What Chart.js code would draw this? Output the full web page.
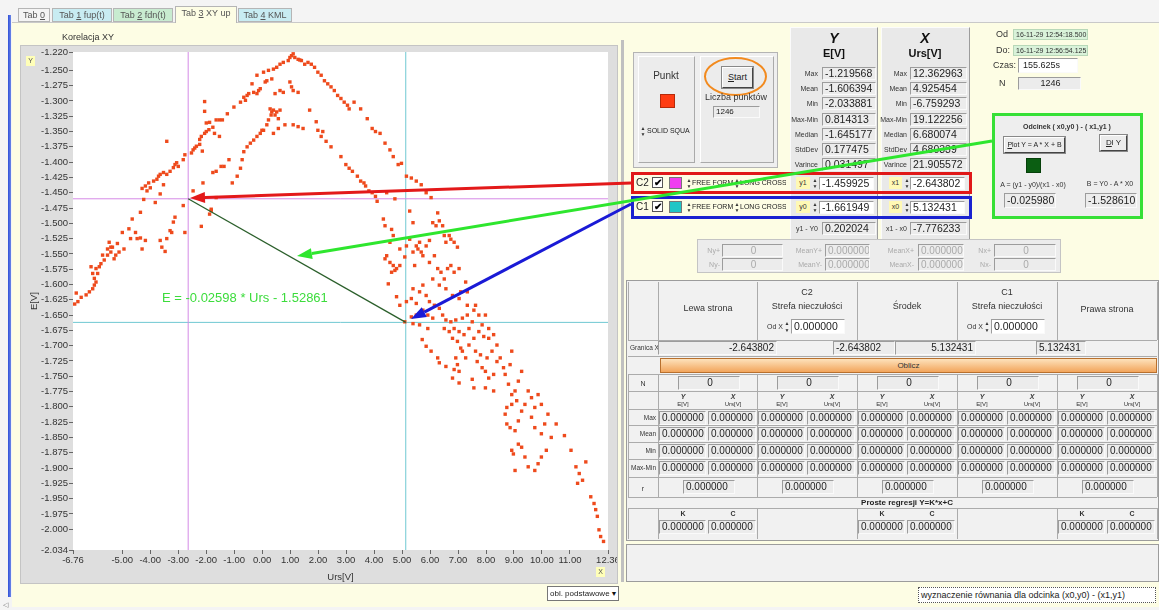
<!DOCTYPE html>
<html>
<head>
<meta charset="utf-8">
<script src="https://cdn.jsdelivr.net/npm/chart.js@4.4.1/dist/chart.umd.min.js"></script>
<style>
  body { margin:0; width:1159px; height:610px; overflow:hidden; background:#f4f4f4;
         font-family:"Liberation Sans", Arial, sans-serif; position:relative; }
  #tabpanel { position:absolute; left:12px; top:22px; width:1147px; height:584px; background:#fdfde4;
              border-top:1px solid #c9c9c9; }
  #plotframe { position:absolute; left:21px; top:46px; width:596px; height:537px; z-index:1;
               box-shadow:0 0 0 1px #c4c4c4; }
  #ui { position:absolute; left:0; top:0; width:1159px; height:610px; z-index:2; }
  #arrows { position:absolute; left:0; top:0; z-index:10; pointer-events:none; }
</style>
</head>
<body>
<div id="tabpanel"></div>
<div id="plotframe"><canvas id="xyChart" width="596" height="537"></canvas></div>
<div id="ui"></div>
<svg id="arrows" width="1159" height="610"></svg>
<script>
// cursor values (C1 = x0,y0 ; C2 = x1,y1)
const cursorC1 = [5.132431, -1.661949];
const cursorC2 = [-2.643802, -1.459925];

// axis ranges and tick labels
const xRange = [-6.76, 12.36];
const yRange = [-2.034, -1.22];
const xTicks = [-6.76, -5, -4, -3, -2, -1, 0, 1, 2, 3, 4, 5, 6, 7, 8, 9, 10, 11, 12.36];
const yTicks = [-1.220, -1.250, -1.275, -1.300, -1.325, -1.350, -1.375, -1.400, -1.425, -1.450,
  -1.475, -1.500, -1.525, -1.550, -1.575, -1.600, -1.625, -1.650, -1.675, -1.700, -1.725, -1.750,
  -1.775, -1.800, -1.825, -1.850, -1.875, -1.900, -1.925, -1.950, -1.975, -2.000, -2.034];

// measured samples [Urs, E]
const leftArm = [
  [-6.700,-1.632],[-6.644,-1.614],[-6.585,-1.628],[-6.468,-1.621],[-6.291,-1.617],[-6.174,-1.612],
  [-6.056,-1.607],[-5.997,-1.601],[-5.938,-1.596],[-5.997,-1.590],[-5.879,-1.582],[-6.056,-1.582],
  [-5.938,-1.574],[-5.820,-1.571],[-6.115,-1.571],[-5.762,-1.566],[-5.644,-1.560],[-5.703,-1.552],
  [-5.526,-1.552],[-5.408,-1.547],[-5.526,-1.542],[-5.350,-1.539],[-5.291,-1.558],[-5.232,-1.552],
  [-5.115,-1.547],[-5.467,-1.531],[-5.408,-1.539],[-5.173,-1.533],[-4.997,-1.515],[-4.938,-1.542],
  [-4.762,-1.509],[-4.644,-1.493],[-4.703,-1.525],[-4.526,-1.515],[-4.467,-1.525],[-4.350,-1.524],
  [-4.291,-1.542],[-4.173,-1.528],[-4.350,-1.482],[-4.232,-1.461],[-3.820,-1.466],[-3.644,-1.452],
  [-3.526,-1.437],[-3.644,-1.528],[-3.585,-1.539],[-3.468,-1.546],[-3.409,-1.525],[-3.291,-1.512],
  [-3.173,-1.498],[-3.115,-1.490],[-3.232,-1.515],[-2.762,-1.515],[-2.820,-1.471],[-2.174,-1.505],
  [-1.879,-1.485],[-1.820,-1.479],[-2.115,-1.434],[-2.468,-1.447],
  [-4.291,-1.443],[-4.173,-1.439],[-4.115,-1.447],[-4.056,-1.434],[-3.997,-1.442],[-3.879,-1.431],
  [-3.762,-1.428],[-3.703,-1.423],[-3.644,-1.420],[-3.526,-1.417],[-3.409,-1.420],[-3.291,-1.415],
  [-3.173,-1.409],[-3.115,-1.404],[-3.056,-1.401],[-2.997,-1.407],[-2.820,-1.396],[-2.762,-1.388],
  [-2.526,-1.385],[-2.468,-1.380],[-2.409,-1.377],[-2.350,-1.374],[-2.232,-1.363],[-2.174,-1.358],
  [-2.056,-1.353],[-1.997,-1.350],[-1.903,-1.347],[-1.762,-1.343],[-1.703,-1.353],[-1.526,-1.358],
  [-2.232,-1.371],[-2.138,-1.382],[-3.409,-1.366],
  [-2.056,-1.301],[-2.056,-1.317],[-1.997,-1.336],[-1.879,-1.335],[-1.644,-1.331],[-1.526,-1.331],
  [-1.468,-1.407],[-1.644,-1.415],[-1.762,-1.417],[-1.644,-1.458],[-1.820,-1.477]
];

const archPoints = [
  [-1.421,-1.331],[-1.244,-1.321],[-1.009,-1.310],[-0.774,-1.302],[-0.656,-1.294],[-0.538,-1.291],
  [-0.597,-1.299],[-0.480,-1.288],[-0.303,-1.286],[-0.186,-1.288],[-0.127,-1.283],[-0.068,-1.280],
  [-0.362,-1.272],[-0.186,-1.258],[0.050,-1.253],[0.226,-1.250],[0.403,-1.248],[0.520,-1.245],
  [0.638,-1.240],[0.756,-1.237],[0.932,-1.234],[1.050,-1.226],[1.109,-1.223],[1.167,-1.229],
  [1.285,-1.232],[1.403,-1.234],[1.520,-1.240],[1.638,-1.237],[1.756,-1.240],[1.873,-1.245],
  [1.991,-1.253],[2.109,-1.258],[2.226,-1.267],[2.344,-1.272],[2.461,-1.277],[2.579,-1.283],
  [2.697,-1.291],[2.815,-1.296],[2.932,-1.302],[3.050,-1.307],[3.109,-1.313],[3.285,-1.302],
  [3.520,-1.313],[3.756,-1.329],[3.932,-1.345],[4.050,-1.350],[0.991,-1.229],[1.344,-1.233],
  [0.109,-1.269],[0.167,-1.267],[0.344,-1.264],[0.461,-1.288],[0.638,-1.283],[0.756,-1.286],
  [0.991,-1.269],[1.050,-1.277],[1.109,-1.283],[1.285,-1.286],[0.285,-1.313],[0.344,-1.318],
  [0.461,-1.323],[0.520,-1.318],[0.638,-1.315],[0.579,-1.329],[0.226,-1.331],[0.167,-1.339],
  [0.050,-1.348],[0.403,-1.353],[0.579,-1.345],[0.814,-1.339],[1.109,-1.339],[1.285,-1.342],
  [1.462,-1.345],[1.697,-1.315],[1.932,-1.334],[1.991,-1.348],[2.109,-1.358],[2.167,-1.350],
  [2.285,-1.366],[2.461,-1.375],[2.815,-1.391],[2.991,-1.404],[3.109,-1.410],[3.226,-1.415],
  [3.403,-1.423],[3.520,-1.431],[3.638,-1.434],[3.697,-1.439],[3.814,-1.447],[3.932,-1.450],
  [4.050,-1.456],[4.109,-1.464],[0.403,-1.315],[0.320,-1.323],
  [-1.362,-1.407],[-1.186,-1.396],[-1.068,-1.434],[-0.892,-1.423],[-0.774,-1.410],[-0.715,-1.396],
  [-0.656,-1.383],[-0.538,-1.375],[-0.421,-1.369],[-0.303,-1.364],[-0.186,-1.358],[-0.068,-1.353],
  [-0.009,-1.348]
];

const rightBand = [
  [4.214,-1.353],[4.391,-1.369],[4.567,-1.380],[4.685,-1.391],[4.861,-1.404],[4.979,-1.402],
  [5.156,-1.423],[5.332,-1.426],[5.508,-1.431],[5.685,-1.437],[5.861,-1.450],[6.038,-1.458],
  [4.744,-1.460],[5.273,-1.480],[5.391,-1.499],[4.450,-1.450],
  [4.332,-1.493],[4.391,-1.504],[4.626,-1.510],[4.685,-1.520],[4.567,-1.531],[4.920,-1.542],
  [4.450,-1.553],[4.391,-1.558],[4.567,-1.564],[4.685,-1.569],[4.803,-1.574],[4.920,-1.569],
  [4.626,-1.580],[4.744,-1.577],[4.508,-1.599],[4.803,-1.620],[5.097,-1.555],[5.156,-1.537],
  [5.273,-1.526],[5.391,-1.547],[5.450,-1.569],[5.508,-1.537],[5.567,-1.542],[5.626,-1.531],
  [5.685,-1.547],[5.744,-1.553],[5.861,-1.537],[5.979,-1.528],[6.097,-1.499],[6.214,-1.504],
  [6.332,-1.496],[6.450,-1.504],[6.273,-1.483],[6.508,-1.520],[6.567,-1.531],[6.685,-1.520],
  [6.744,-1.526],[6.861,-1.531],[6.979,-1.539],[6.156,-1.553],[5.979,-1.564],[6.273,-1.574],
  [6.391,-1.580],[6.097,-1.591],[6.332,-1.601],[6.508,-1.591],[6.626,-1.574],[6.744,-1.569],
  [6.861,-1.580],[7.038,-1.574],[7.097,-1.612],[7.273,-1.596],[7.332,-1.612],[5.744,-1.601],
  [5.626,-1.612],[5.861,-1.618],[5.979,-1.628],[6.156,-1.634],[6.332,-1.639],[5.391,-1.607],
  [5.332,-1.623],[5.508,-1.631],[5.744,-1.642],[5.920,-1.650],[6.097,-1.655],[6.450,-1.650],
  [6.567,-1.658],[6.744,-1.661],[6.920,-1.658],[7.156,-1.655],[7.332,-1.650],[7.508,-1.661],
  [7.626,-1.634],[7.744,-1.650],[7.861,-1.666],[7.979,-1.650],[8.097,-1.672],[7.391,-1.672],
  [7.214,-1.682],[7.038,-1.677],[6.861,-1.672],[6.685,-1.677],[6.508,-1.672],[6.803,-1.688],
  [6.979,-1.693],[7.097,-1.704],[6.920,-1.720],[6.979,-1.731],[7.038,-1.742],[6.861,-1.739],
  [7.156,-1.709],[7.273,-1.720],[7.391,-1.699],[7.567,-1.688],[7.744,-1.677],[7.920,-1.685],
  [8.097,-1.688],[8.273,-1.682],[8.391,-1.699],[8.214,-1.709],[8.038,-1.720],[7.803,-1.715],
  [7.626,-1.709],[7.685,-1.726],[7.861,-1.736],[7.979,-1.742],[8.097,-1.753],[8.273,-1.747],
  [8.391,-1.726],[8.508,-1.720],[8.626,-1.736],[8.685,-1.747],[8.861,-1.731],[8.920,-1.709],
  [8.803,-1.763],[8.920,-1.780],[9.038,-1.774],[9.156,-1.758],[9.273,-1.742],[9.097,-1.790],
  [8.920,-1.796],[8.744,-1.801],[8.685,-1.812],[8.744,-1.828],[8.861,-1.834],[9.038,-1.839],
  [9.156,-1.823],[9.273,-1.807],[9.391,-1.796],[9.508,-1.774],[9.626,-1.785],[9.744,-1.801],
  [9.861,-1.780],[9.979,-1.796],[9.626,-1.817],[9.744,-1.834],[9.979,-1.844],[10.097,-1.828],
  [10.214,-1.812],[10.332,-1.850],[10.156,-1.871],[9.979,-1.882],[9.861,-1.893],[9.744,-1.904],
  [9.508,-1.898],[9.391,-1.882],[9.273,-1.866],[9.156,-1.861],[8.979,-1.877],[8.920,-1.871],
  [9.038,-1.904],[10.508,-1.828],[10.803,-1.847],[11.038,-1.871],[11.214,-1.898],[11.332,-1.909],
  [11.273,-1.925],[11.450,-1.920],[11.567,-1.890],[11.744,-1.947],[11.861,-1.958],[11.920,-1.968],
  [11.979,-1.979],[5.720,-1.690],[5.861,-1.701],[6.038,-1.709],[6.273,-1.720],[6.332,-1.728],
  [6.567,-1.734],[6.803,-1.753],[7.038,-1.761],[7.508,-1.755],[7.567,-1.769],[7.979,-1.769],
  [8.273,-1.774],[6.567,-1.607],[6.803,-1.618],[7.038,-1.623],[7.332,-1.634],[7.567,-1.642],
  [5.391,-1.664],[5.626,-1.666],[5.920,-1.672],[5.097,-1.661],[5.332,-1.653],[5.508,-1.650],
  [4.920,-1.634],[5.156,-1.628],[12.038,-2.001],[12.097,-2.012],[12.200,-2.020]
];

// segment (x0,y0)-(x1,y1) and its line equation
const slopeA = (cursorC2[1] - cursorC1[1]) / (cursorC2[0] - cursorC1[0]);
const offsetB = cursorC1[1] - slopeA * cursorC1[0];
const eqText = 'E = ' + slopeA.toFixed(5) + ' * Urs - ' + Math.abs(offsetB).toFixed(5);

const toXY = arr => arr.map(([x, y]) => ({ x, y }));
const vLine = x => [{ x, y: yRange[0] }, { x, y: yRange[1] }];
const hLine = y => [{ x: xRange[0], y }, { x: xRange[1], y }];

const frameFill = {
  id: 'frameFill',
  beforeDraw(chart) {
    const { ctx, chartArea: a, width, height } = chart;
    ctx.save();
    ctx.fillStyle = '#dedede';
    ctx.fillRect(0, 0, width, height);
    ctx.fillStyle = '#ffffff';
    ctx.fillRect(a.left, a.top, a.right - a.left, a.bottom - a.top);
    ctx.restore();
  }
};

const equationLabel = {
  id: 'equationLabel',
  afterDatasetsDraw(chart, args, opts) {
    const { ctx, scales: { x, y } } = chart;
    ctx.save();
    ctx.font = '13px "Liberation Sans", Arial, sans-serif';
    ctx.fillStyle = '#3cdc3c';
    ctx.textBaseline = 'middle';
    ctx.fillText(eqText, x.getPixelForValue(opts.at[0]), y.getPixelForValue(opts.at[1]));
    ctx.restore();
  }
};

const lineSet = (data, color, width) => ({
  type: 'line', data, borderColor: color, borderWidth: width, pointRadius: 0, fill: false, tension: 0
});

new Chart(document.getElementById('xyChart'), {
  type: 'scatter',
  data: {
    datasets: [
      { data: toXY([...leftArm, ...archPoints, ...rightBand]), backgroundColor: '#ee4a1c',
        pointStyle: 'rect', pointRadius: 2.4, borderWidth: 0, order: 1 },
      Object.assign(lineSet(vLine(cursorC2[0]), '#d58ae6', 1), { order: 3 }),
      Object.assign(lineSet(hLine(cursorC2[1]), '#d58ae6', 1), { order: 3 }),
      Object.assign(lineSet(vLine(cursorC1[0]), '#6fc8d2', 1), { order: 3 }),
      Object.assign(lineSet(hLine(cursorC1[1]), '#6fc8d2', 1), { order: 3 }),
      Object.assign(lineSet(toXY([cursorC2, cursorC1]), '#2b5f2b', 1.3), { order: 0 })
    ]
  },
  options: {
    responsive: false,
    animation: false,
    devicePixelRatio: 1,
    layout: { padding: { top: 6, right: 9, left: 0, bottom: 0 } },
    plugins: {
      legend: { display: false },
      tooltip: { enabled: false },
      equationLabel: { at: [-3.58, -1.622] }
    },
    scales: {
      x: {
        type: 'linear', min: xRange[0], max: xRange[1],
        afterBuildTicks: s => { s.ticks = xTicks.map(v => ({ value: v })); },
        afterFit: s => { s.height = 33; s.paddingLeft = 0; s.paddingRight = 0; },
        ticks: { callback: v => v.toFixed(2), autoSkip: false, maxRotation: 0, padding: 1,
                 color: '#333', font: { size: 9.5, family: '"Liberation Sans", Arial' } },
        grid: { drawOnChartArea: false, tickLength: 4, color: '#666' },
        border: { display: false },
        title: { display: true, text: 'Urs[V]', color: '#333', padding: 0,
                 font: { size: 9.5, family: '"Liberation Sans", Arial' } }
      },
      y: {
        type: 'linear', min: yRange[0], max: yRange[1],
        afterBuildTicks: s => { s.ticks = yTicks.map(v => ({ value: v })); },
        afterFit: s => { s.width = 52; s.paddingTop = 0; s.paddingBottom = 0; },
        ticks: { callback: v => v.toFixed(3), autoSkip: false, padding: 1,
                 color: '#333', font: { size: 9.5, family: '"Liberation Sans", Arial' } },
        grid: { drawOnChartArea: false, tickLength: 4, color: '#666' },
        border: { display: false },
        title: { display: true, text: 'E[V]', color: '#333', padding: { top: 8, bottom: 0 },
                 font: { size: 9.5, family: '"Liberation Sans", Arial' } }
      }
    }
  },
  plugins: [frameFill, equationLabel]
});

// ---------- front panel ----------
const ui = document.getElementById('ui');
function box(x, y, w, h, css, html) {
  const d = document.createElement('div');
  d.style.cssText = `position:absolute;left:${x}px;top:${y}px;width:${w}px;height:${h}px;box-sizing:border-box;` + (css || '');
  if (html !== undefined) d.innerHTML = html;
  ui.appendChild(d);
  return d;
}
const txt = (x, y, s, css) => box(x, y, 0, 0, 'white-space:nowrap;font-size:8px;color:#333;line-height:1;overflow:visible;' + (css || ''), s);
const ctxt = (cx, y, s, css) => box(cx - 100, y, 200, 14, 'white-space:nowrap;text-align:center;font-size:8px;color:#333;line-height:1;' + (css || ''), s);
const rtxt = (rx, y, s, css) => box(rx - 120, y, 120, 12, 'white-space:nowrap;text-align:right;font-size:7px;color:#333;line-height:1;' + (css || ''), s);
const field = (x, y, w, h, s, css) => box(x, y, w, h,
  `background:#ececec;border:1px solid;border-color:#9c9c9c #fafafa #fafafa #9c9c9c;font-size:10px;line-height:${h - 2}px;padding-left:2px;color:#222;white-space:nowrap;overflow:hidden;` + (css || ''), s);
const spin = (x, y, h) => box(x, y, 6, h, 'font-size:5px;line-height:' + (h / 2) + 'px;color:#333;text-align:center;', '▲<br>▼');
const button = (x, y, w, h, s, css) => box(x, y, w, h,
  `background:#ececec;border:1px solid;border-color:#fff #444 #444 #fff;outline:1px solid #888;text-align:center;line-height:${h - 2}px;font-size:8px;color:#222;white-space:nowrap;` + (css || ''), s);

// tabs
const tabs = [
  [18, 32, 'Tab <u>0</u>', '#f4f4f4'], [52, 60, 'Tab <u>1</u> fup(t)', '#c8ecf2'],
  [113, 60, 'Tab <u>2</u> fdn(t)', '#c8ebd0'], [175, 62, 'Tab <u>3</u> XY up', '#fdfde4'],
  [238, 54, 'Tab <u>4</u> KML', '#c8ecf2']
];
tabs.forEach(([x, w, s, bg], i) => {
  const active = i === 3;
  box(x, active ? 6 : 8, w, active ? 17 : 14,
    `background:${bg};border:1px solid #b5b5b5;border-bottom:${active ? 'none' : '1px solid #b5b5b5'};font-size:9px;color:#555;text-align:center;line-height:13px;`, s);
});
box(8, 15, 3, 582, 'background:linear-gradient(90deg,#2f4fd8,#6a86e8)');
txt(62, 33, 'Korelacja XY', 'font-size:9px;color:#333');
box(26, 56, 9, 10, 'background:#ffffb8;font-size:7px;text-align:center;line-height:10px;color:#555', 'Y');
box(596, 567, 9, 10, 'background:#ffffb8;font-size:7px;text-align:center;line-height:10px;color:#555', 'X');
box(547, 586, 72, 15, 'background:#fff;border:1px solid #777;font-size:8px;line-height:13px;padding-left:2px;color:#222;white-space:nowrap;overflow:hidden', 'obl. podstawowe');
box(610, 587, 8, 13, 'background:#fff;font-size:7px;line-height:13px;color:#111;text-align:center', '▼');
txt(3, 601, '◁', 'font-size:7px;color:#777');
box(621, 40, 3, 542, 'background:#c0c0c0');

// marker style and start
box(633, 52, 145, 116, 'border:1px solid #b4b4b4;background:#efefef');
box(638, 56, 57, 107, 'border:1px solid;border-color:#fff #aaa #aaa #fff;background:#ececec');
box(700, 56, 74, 107, 'border:1px solid;border-color:#fff #aaa #aaa #fff;background:#ececec');
ctxt(666, 71, 'Punkt', 'font-size:10px');
box(660, 94, 15, 14, 'background:#ff3c12;border:1px solid #b52a0a');
spin(640, 125, 12);
box(647, 125, 46, 12, 'font-size:7px;line-height:12px;color:#222;white-space:nowrap;overflow:hidden', 'SOLID SQUA');
button(722, 67, 31, 21, '<u>S</u>tart', 'font-size:9px');
box(704, 57, 63, 39, 'border:2px solid #f28a1e;border-radius:50%');
ctxt(736, 93, 'Liczba punktów', 'font-size:9px');
field(713, 106, 47, 12, '1246', 'font-size:8px');

// statistics panels
const statLabels = ['Max', 'Mean', 'Min', 'Max-Min', 'Median', 'StdDev', 'Varince'];
const statsE = ['-1.219568', '-1.606394', '-2.033881', '0.814313', '-1.645177', '0.177475', '0.031497'];
const statsUrs = ['12.362963', '4.925454', '-6.759293', '19.122256', '6.680074', '4.680339', '21.905572'];
const panelCss = 'background:#e9e9e9;border:1px solid;border-color:#fbfbfb #9c9c9c #9c9c9c #fbfbfb';
box(790, 27, 88, 214, panelCss);
box(881, 27, 89, 214, panelCss);
ctxt(834, 31, '<b><i>Y</i></b>', 'font-size:14px;color:#111');
ctxt(834, 48, '<b>E[V]</b>', 'font-size:11px;color:#111');
ctxt(925, 31, '<b><i>X</i></b>', 'font-size:14px;color:#111');
ctxt(925, 48, '<b>Urs[V]</b>', 'font-size:11px;color:#111');
statLabels.forEach((name, i) => {
  const y = 67 + i * 15.2;
  rtxt(818, y + 3, name);
  field(822, y, 54, 13, statsE[i], 'font-size:10.5px');
  rtxt(907, y + 3, name);
  field(910, y, 57, 13, statsUrs[i], 'font-size:10.5px');
});

// cursor rows
const cursorRows = [
  [177, 'C2', '#f03ef0', 'y1', 'x1', cursorC2],
  [201, 'C1', '#1fc6c6', 'y0', 'x0', cursorC1]
];
cursorRows.forEach(([y, name, col, ly, lx, c]) => {
  txt(636, y + 1, name, 'font-size:10px;color:#222');
  box(652, y, 11, 11, 'background:#fff;border:1px solid #555;font-size:10px;line-height:9px;text-align:center;font-weight:bold;color:#000', '✔');
  box(669, y, 13, 12, `background:${col};border:1px solid #777`);
  spin(686, y, 12);
  box(692, y, 42, 12, 'font-size:7px;line-height:12px;color:#222;white-space:nowrap;overflow:hidden', 'FREE FORM');
  spin(734, y, 12);
  box(740, y, 46, 12, 'font-size:7px;line-height:12px;color:#222;white-space:nowrap;overflow:hidden', 'LONG CROSS');
  box(796, y, 14, 12, 'background:#fff9b5;font-size:7px;line-height:12px;text-align:center;color:#333', ly);
  spin(812, y, 12);
  field(819, y, 55, 13, c[1].toFixed(6), 'background:#fff;font-size:10.5px');
  box(889, y, 13, 12, 'background:#fff9b5;font-size:7px;line-height:12px;text-align:center;color:#333', lx);
  spin(904, y, 12);
  field(910, y, 55, 13, c[0].toFixed(6), 'background:#fff;font-size:10.5px');
});
rtxt(818, 225, 'y1 - Y0');
field(822, 222, 54, 13, (cursorC2[1] - cursorC1[1]).toFixed(6), 'font-size:10.5px');
rtxt(907, 225, 'x1 - x0');
field(910, 222, 57, 13, (cursorC2[0] - cursorC1[0]).toFixed(6), 'font-size:10.5px');
box(631, 172, 341, 22, 'border:3px solid #e01818');
box(631, 196, 341, 23, 'border:3px solid #1a22d0');

// zone counters
box(697, 239, 364, 34, 'background:#ececec;border:1px solid #c4c4c4');
[['+', 244], ['-', 258]].forEach(([s, y]) => {
  const g = 'color:#aaa;';
  rtxt(720, y + 3, 'Ny' + s, g);
  field(722, y, 61, 13, '0', g + 'text-align:center');
  rtxt(822, y + 3, 'MeanY' + s, g);
  field(825, y, 45, 13, '0.000000', g);
  rtxt(914, y + 3, 'MeanX' + s, g);
  field(918, y, 46, 13, '0.000000', g);
  rtxt(991, y + 3, 'Nx' + s, g);
  field(994, y, 62, 13, '0', g + 'text-align:center');
});

// time window
txt(996, 30, 'Od', 'font-size:9px');
box(1013, 29, 75, 11, 'background:#d9f2d9;border:1px solid #b8d8b8;font-size:7px;line-height:9px;padding-left:2px;white-space:nowrap;color:#333', '16-11-29 12:54:18.500');
txt(996, 46, 'Do:', 'font-size:9px');
box(1013, 45, 75, 11, 'background:#d9f2d9;border:1px solid #b8d8b8;font-size:7px;line-height:9px;padding-left:2px;white-space:nowrap;color:#333', '16-11-29 12:56:54.125');
txt(993, 61, 'Czas:', 'font-size:9px');
field(1018, 58, 60, 15, '155.625s', 'background:#fff;font-size:9px;padding-left:4px');
txt(999, 79, 'N', 'font-size:9px');
field(1018, 77, 63, 13, '1246', 'font-size:9px;text-align:center');

// segment equation box
box(992, 113, 151, 106, 'border:3px solid #36e036;background:#eeeeee');
ctxt(1067, 123, '<b>Odcinek ( x0,y0 ) - ( x1,y1 )</b>', 'font-size:7px');
button(1004, 137, 61, 16, '<u>P</u>lot Y = A * X + B', 'font-size:7px');
button(1100, 135, 27, 16, '<u>D</u>l Y', 'font-size:8px');
box(1026, 158, 15, 15, 'background:#0b5e12;border:1px solid #06400a');
ctxt(1033, 181, 'A = (y1 - y0)/(x1 - x0)', 'font-size:7px');
ctxt(1110, 180, 'B = Y0 - A * X0', 'font-size:7px');
field(1004, 193, 52, 15, slopeA.toFixed(6), 'font-size:10.5px');
field(1085, 193, 52, 15, offsetB.toFixed(6), 'font-size:10.5px');

// zone statistics table
const colX = [628, 658, 757, 857, 957, 1057, 1157];
box(626, 280, 533, 261, 'background:#f1f1f1;border:1px solid #9c9c9c');
[340, 356, 374, 391, 409, 425, 442, 459, 477, 497, 508].forEach(y => box(628, y, 529, 1, 'background:#ababab'));
[[282, 340], [374, 497], [508, 539]].forEach(([a, b]) => colX.forEach(x => box(x, a, 1, b - a, 'background:#ababab')));
ctxt(708, 304, 'Lewa strona', 'font-size:9px');
ctxt(907, 302, 'Środek', 'font-size:9px');
ctxt(1107, 305, 'Prawa strona', 'font-size:9px');
[['C2', 757], ['C1', 957]].forEach(([name, L]) => {
  ctxt(L + 50, 288, name, 'font-size:9px');
  ctxt(L + 50, 302, 'Strefa nieczułości', 'font-size:9px');
  txt(L + 10, 323, 'Od X', 'font-size:7px');
  spin(L + 27, 320, 13);
  field(L + 34, 319, 54, 15, '0.000000', 'background:#fff;font-size:10.5px');
});
txt(630, 345, 'Granica X', 'font-size:6.5px');
field(658, 341, 119, 14, cursorC2[0].toFixed(6), 'text-align:right;padding-right:2px');
field(833, 341, 62, 14, cursorC2[0].toFixed(6));
field(895, 341, 81, 14, cursorC1[0].toFixed(6), 'text-align:right;padding-right:2px');
field(1036, 341, 50, 14, cursorC1[0].toFixed(6));
box(660, 358, 497, 15, 'background:linear-gradient(#fde2bc,#f2a55c);border:1px solid #b8702e;font-size:8px;text-align:center;line-height:13px;color:#333', 'Oblicz');
ctxt(643, 380, 'N', 'font-size:7px');
const tableRows = ['Max', 'Mean', 'Min', 'Max-Min'];
const rowTop = [409, 425, 442, 459];
for (let c = 0; c < 5; c++) {
  const L = colX[c + 1];
  field(L + 20, 376, 62, 14, '0', 'text-align:center');
  ctxt(L + 25, 393, '<b><i>Y</i></b>', 'font-size:7px');
  ctxt(L + 25, 401, 'E[V]', 'font-size:6px');
  ctxt(L + 75, 393, '<b><i>X</i></b>', 'font-size:7px');
  ctxt(L + 75, 401, 'Urs[V]', 'font-size:6px');
  rowTop.forEach(y => {
    field(L + 1, y + 2, 47, 14, '0.000000');
    field(L + 50, y + 2, 48, 14, '0.000000');
  });
  field(L + 25, 480, 52, 14, '0.000000');
  if (c % 2 === 0) {
    ctxt(L + 25, 510, '<b>K</b>', 'font-size:7px');
    ctxt(L + 75, 510, '<b>C</b>', 'font-size:7px');
    field(L + 1, 520, 47, 14, '0.000000');
    field(L + 50, 520, 48, 14, '0.000000');
  }
}
tableRows.forEach((name, i) => rtxt(656, rowTop[i] + 6, name, 'font-size:6.5px'));
ctxt(643, 485, 'r', 'font-size:7px');
ctxt(907, 499, '<b>Proste regresji Y=K*x+C</b>', 'font-size:8px;color:#222');
box(626, 544, 533, 38, 'background:#f1f1f1;border:1px solid #9c9c9c');
box(918, 587, 238, 16, 'background:#fff;border:1px dotted #555;font-size:9px;line-height:14px;padding-left:2px;white-space:nowrap;color:#222', 'wyznaczenie równania dla odcinka (x0,y0) - (x1,y1)');

// pointer arrows from the panel controls to the plot
const svg = document.getElementById('arrows');
function arrow(x1, y1, x2, y2, color) {
  const ang = Math.atan2(y2 - y1, x2 - x1), len = 15, half = 5.5;
  const bx = x2 - len * Math.cos(ang), by = y2 - len * Math.sin(ang);
  const nx = -Math.sin(ang) * half, ny = Math.cos(ang) * half;
  svg.insertAdjacentHTML('beforeend',
    `<line x1="${x1}" y1="${y1}" x2="${bx}" y2="${by}" stroke="${color}" stroke-width="3"/>` +
    `<polygon points="${x2},${y2} ${bx + nx},${by + ny} ${bx - nx},${by - ny}" fill="${color}"/>`);
}
arrow(631, 183, 190, 198, '#e3191a');
arrow(992, 141, 297, 256, '#2ee62e');
arrow(631, 204, 411, 319, '#1a1ad6');
</script>
</body>
</html>
